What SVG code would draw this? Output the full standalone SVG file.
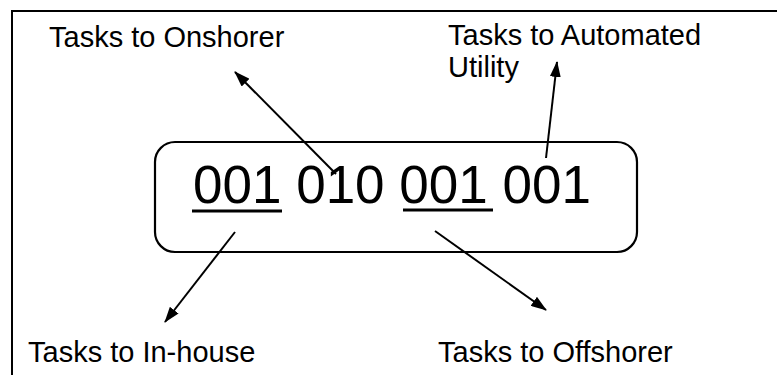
<svg xmlns="http://www.w3.org/2000/svg" width="777" height="375" viewBox="0 0 777 375">
  <style>
    .frame { fill: none; stroke: #000; stroke-width: 2; }
    .box { fill: #fff; stroke: #000; stroke-width: 2.2; }
    .label { font-family: "Liberation Sans", Arial, sans-serif; font-size: 29px; fill: #000; }
    .code { font-family: "Liberation Sans", Arial, sans-serif; font-size: 53px; fill: #000; }
    .uline { stroke: #000; stroke-width: 3; }
    .conn { stroke: #000; stroke-width: 2; fill: none; marker-end: url(#head); }
  </style>
  <defs>
    <marker id="head" viewBox="0 0 16 11" refX="15" refY="5.5" markerWidth="16" markerHeight="11" markerUnits="userSpaceOnUse" orient="auto">
      <path d="M0,0 L16,5.5 L0,11 Z" fill="#000"/>
    </marker>
  </defs>
  <rect width="777" height="375" fill="#fff"/>

  <!-- page frame: top and left edges only -->
  <path class="frame" d="M12,375 V11 H777"/>

  <!-- central bit-string node -->
  <g id="code-node">
    <rect class="box" x="155" y="142" width="482" height="110" rx="20" ry="20"/>
    <text class="code" x="193" y="203">001 010 001 001</text>
    <line class="uline" x1="192" y1="211" x2="282" y2="211"/>
    <line class="uline" x1="403" y1="210" x2="493" y2="210"/>
  </g>

  <g id="onshorer">
    <text class="label" x="49" y="47">Tasks to Onshorer</text>
  </g>
  <g id="automated">
    <text class="label" x="448" y="45">Tasks to Automated</text>
    <text class="label" x="448" y="77">Utility</text>
  </g>
  <g id="inhouse">
    <text class="label" x="28" y="362">Tasks to In-house</text>
  </g>
  <g id="offshorer">
    <text class="label" x="438" y="362">Tasks to Offshorer</text>
  </g>

  <g id="connectors">
    <line class="conn" x1="336" y1="174" x2="235" y2="72"/>
    <line class="conn" x1="546" y1="158" x2="557" y2="62"/>
    <line class="conn" x1="235" y1="232" x2="165" y2="322"/>
    <line class="conn" x1="435" y1="231" x2="546" y2="310"/>
  </g>
</svg>
